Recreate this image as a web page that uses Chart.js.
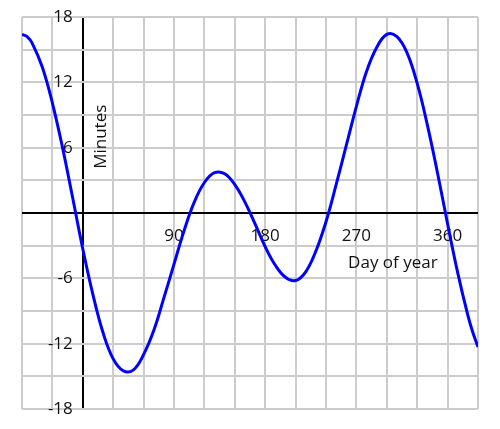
<!DOCTYPE html>
<html>
<head>
<meta charset="utf-8">
<script src="https://cdn.jsdelivr.net/npm/chart.js@4/dist/chart.umd.min.js"></script>
<style>
  body{margin:0;background:#fff;}
  #caja{width:500px;height:429px;}
</style>
</head>
<body>
<div id="caja"><canvas id="miGrafica"></canvas></div>
<script>
// dia del año (desde noviembre del año anterior hasta enero del siguiente)
var dias = [-60,-55,-50,-40,-30,-20,-10,0,10,20,30,40,50,60,70,80,90,100,110,120,130,140,150,160,170,180,190,200,210,220,230,240,250,260,270,280,290,300,310,320,330,340,350,360,370,380,385,390];
// minutos (ecuacion del tiempo)
var minutos = [16.4,16.2,15.6,13.4,10.1,6.0,1.4,-3.3,-7.5,-11.0,-13.4,-14.5,-14.4,-13.0,-10.8,-7.8,-4.7,-1.6,1.0,2.8,3.7,3.6,2.6,1.0,-1.0,-3.1,-4.8,-5.9,-6.2,-5.4,-3.5,-0.8,2.6,6.2,9.8,13.0,15.2,16.4,16.2,14.7,11.9,8.1,3.7,-1.0,-5.5,-9.4,-11.0,-12.3];

var etiquetasX = [90,180,270,360];
var etiquetasY = [18,12,6,-6,-12,-18];
var tituloX = "Day of year";
var tituloY = "Minutes";

document.addEventListener("DOMContentLoaded",function(){
    grafica();
})

function grafica(){
    let miCanvas=document.getElementById("miGrafica").getContext("2d");
    let fuente = "17px 'Open Sans'";

    var puntos = [];
    for (let i = 0; i < dias.length; i++) {
        puntos.push({x: dias[i], y: minutos[i]});
    }

    // etiquetas pegadas a los ejes que cruzan por cero
    var etiquetas = {
        id: "etiquetas",
        beforeDatasetsDraw: function(chart){
            let ctx = chart.ctx;
            let sx = chart.scales.x;
            let sy = chart.scales.y;
            let x0 = sx.getPixelForValue(0);
            let y0 = sy.getPixelForValue(0);
            ctx.save();
            ctx.font = fuente;
            ctx.fillStyle = "#111";
            ctx.textAlign = "right";
            ctx.textBaseline = "middle";
            etiquetasY.forEach(function(v){
                ctx.fillText(String(v), x0 - 10, sy.getPixelForValue(v));
            });
            ctx.textAlign = "center";
            etiquetasX.forEach(function(v){
                ctx.fillText(String(v), sx.getPixelForValue(v), y0 + 23);
            });
            ctx.fillText(tituloX, sx.getPixelForValue(306), sy.getPixelForValue(-4.6));
            ctx.translate(sx.getPixelForValue(18), sy.getPixelForValue(7));
            ctx.rotate(-Math.PI/2);
            ctx.fillText(tituloY, 0, 0);
            ctx.restore();
        }
    };

    var chart = new Chart(miCanvas,{
        type: "line",
        data: {
            datasets: [{
                data: puntos,
                borderColor: "#0000ff",
                borderWidth: 3,
                pointRadius: 0,
                tension: 0.4,
                fill: false
            }]
        },
        options: {
            responsive: true,
            maintainAspectRatio: false,
            animation: false,
            layout: { padding: { left: 22, right: 22, top: 17, bottom: 20 } },
            plugins: { legend: { display: false }, tooltip: { enabled: false } },
            scales: {
                x: {
                    type: "linear",
                    min: -60,
                    max: 390,
                    ticks: { display: false, stepSize: 30 },
                    border: { display: false },
                    grid: {
                        drawTicks: false,
                        lineWidth: 2,
                        color: function(c){ return c.tick && c.tick.value === 0 ? "#000" : "#cccccc"; }
                    }
                },
                y: {
                    min: -18,
                    max: 18,
                    ticks: { display: false, stepSize: 3 },
                    border: { display: false },
                    grid: {
                        drawTicks: false,
                        lineWidth: 2,
                        color: function(c){ return c.tick && c.tick.value === 0 ? "#000" : "#cccccc"; }
                    }
                }
            }
        },
        plugins: [etiquetas]
    });
}
</script>
</body>
</html>
